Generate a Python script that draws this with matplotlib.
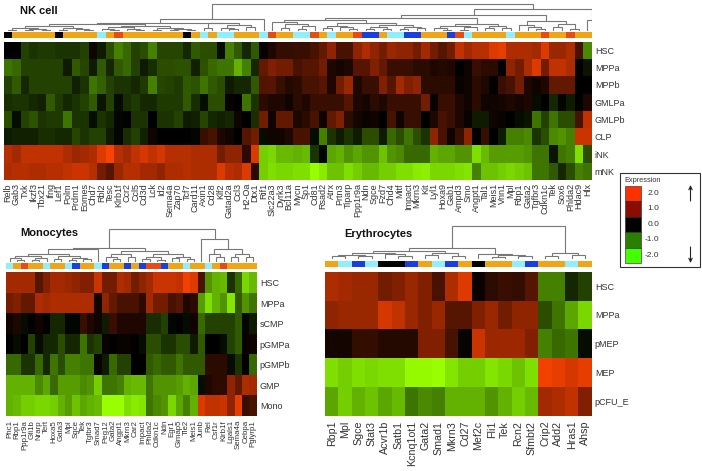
import numpy as np
import matplotlib
matplotlib.use("Agg")
import matplotlib.pyplot as plt
from matplotlib.colors import LinearSegmentedColormap, ListedColormap, Normalize
from matplotlib.patches import Rectangle

plt.rcParams['font.family'] = ['Liberation Sans', 'DejaVu Sans']
W, H = 702, 471
TXT = '#333333'

# ---------- NK cell ----------
nk_genes = ['Relb','Gab3','Txk','Ikzf3','Tbx21','Ifng','Lef1','Polm','Prdm1','Eomes','Chd7','Rbl2','Tesc','Klrb1f','Ccr2','Ccl5','Cd3d','Lck','Id2','Sema4a','Zap70','Tcf7','Card11','Axin1','Cd28','Klf2','Gatad2a','Ccl3','H2-Oa','Dtx1',
            'Rif1','Slc22a3','Dyrk3','Bcl11a','Mycn','Sp1','Cd81','Rsad2','Atrx','Prtn3','Tiparp','Ppp1r9a','Ndn','Sgce','Fzd7','Chd4','Mitf','Impact','Mkrn3','Kit','Lyl1','Hoxa9','Gab1','Ampd3','Smo','Angpt1','Tal1','Meis1','Vnn1','Mpl','Rbp1','Gata2','Tgfbr3','Cdkn1c','Tek','Sox6','Phlda2','Hdac9','Hlx']
nk_rows = ['HSC','MPPa','MPPb','GMLPa','GMLPb','CLP','iNK','mNK']
nk_hsc = [0,0,-.5,-.4,-.45,-.45,-.4,-.4,-.4,-.5,.1,-.2,-.6,-1,-.8,-.5,-.6,-1,-.55,-.55,-.55,-.3,-.7,-.6,-.6,-.1,-1,-.7,-.3,-.7,
          .05,.2,.35,.35,.4,.4,.5,.7,1,.5,.5,1,1.3,1,.8,1.1,1,1,.8,1.2,.8,.6,.8,1.5,1.2,1.4,1.4,1.8,1.9,1.3,1.3,1.3,1.2,1.8,1.1,1.1,1.3,.5,-1.1]
nk_mppa = [-.9,-.8,-.5,-.5,-.5,-.5,-.5,-.2,-.7,-.55,-.2,-.7,-.3,-.7,-.8,-.5,-.2,-.35,-.6,-.6,-.65,-.65,-.25,-.65,-.8,-.9,-.9,-1.5,-1,-.3,
           .7,.9,.8,.8,.5,.6,.6,.8,.2,.15,.2,.6,.6,.9,.7,.4,.4,.4,.3,.3,.2,.25,.2,0,.1,.4,.3,.3,0,1,.8,1.3,1.8,.8,1.5,1.5,1.3,0,-.15]
nk_mppb = [-.5,-.7,-.3,-.5,-.5,-.5,-.5,-.5,-.25,-.4,-.9,-.75,-.5,-.4,-.4,-.3,-.45,-1,-.55,-.5,-.45,-.7,-.65,-.9,-.7,-.6,-.2,-.3,-.3,-.7,
           .55,.6,.4,.25,.3,.5,.5,.6,.2,.8,1.1,.2,.4,.4,.9,.6,1.2,.9,1,.3,.3,.3,.3,.05,.1,.3,.2,0,.4,.5,.8,.2,.1,.2,.7,.7,.7,0,0]
nk_gmlpa = [-.35,-.4,-.4,-.3,-.25,-.7,-.45,-.3,-.4,-.5,-.7,-.15,-.5,-.1,-.35,-.45,-.3,-.3,-.45,-.45,-.45,-.7,-.35,-.1,-.6,-.6,.05,0,-.9,-.4,
            .3,.2,.2,.1,.3,.2,.4,.4,.4,.4,.6,.2,.15,.3,.2,.4,.4,.4,.4,.8,.05,.4,.4,.2,.1,.3,.1,.1,.15,.2,.15,.2,-.1,0,-.3,-.05,-.2,0,.2]
nk_gmlpb = [-.6,-.1,-.5,-.65,-.4,-.45,-.45,-.9,-.4,-.4,-.1,-.4,-.3,-.05,0,-.4,-.4,0,-.4,-.4,-.5,-.2,-.25,-.55,-.3,-.25,-.3,.1,0,-.35,
            .8,.1,.7,.7,.2,.3,.5,.1,.7,.9,.3,.15,.05,.1,0,.5,.1,.4,.4,0,.2,.5,.4,.2,.05,-.2,-.2,.1,.05,0,-.1,-.15,-.9,-.5,-.9,-.6,-.6,.5,1.5]
nk_clp = [-.2,-.25,-.25,-.25,-.35,-.35,-.3,-.3,-.55,-.4,-.5,-.5,-.2,-.05,-.35,-.5,-.25,.1,0,0,0,0,-.05,.4,.5,.2,.1,0,.6,.8,
          -.1,.1,.1,.2,.5,.5,-.1,-1,-.4,-.2,-.4,-.2,-.6,-.6,-.2,-.8,-.6,-.9,-.6,-.4,1,.5,.1,.4,1,0,.4,0,-.2,-1,-1,-1.1,-.4,-.6,-1.1,-1.2,-1,1.6,1.6]
nk_ink = [1.4,1.2,1.5,1.5,1.5,1.5,1.5,1.3,1.1,1.2,1.3,1.8,2.1,1.4,1.2,1.5,1.7,1.5,1.7,1.4,1.4,1.4,1.3,1.3,1.3,.8,1,1,.3,1.8,
          -1.8,-1.9,-1.6,-1.6,-1.5,-1.6,-.4,-.05,-1.4,-1.5,-1.2,-1.4,-1.2,-1.2,-1.7,-1.2,-1.1,-.8,-.8,-.8,-1.5,-1.4,-1.4,-1.2,-1.2,-2,-1.6,-1.3,-1.3,-1.3,-1.3,-1.2,-.9,-.9,-.15,-.9,-1,-2,-.6]
nk_mnk = [1.3,1.4,1.4,1.3,1.3,1.4,1.4,1.5,1.6,1.6,1.4,.8,.6,1.1,1.4,1.4,1.2,1.2,1,1.3,1.3,1.4,1.3,1.3,1.3,1.8,1.4,1.3,1.8,.3,
          -1.8,-2,-1.9,-1.9,-2,-2,-2.6,-2.2,-1.7,-1.7,-2,-1.8,-1.6,-1.6,-1.8,-1.8,-2,-2,-2.2,-2.3,-1.9,-1.9,-1.9,-2,-2.1,-1,-1.7,-1.7,-1.8,-1.9,-1.8,-1.7,-.9,-.9,-.7,-.3,-.6,-1,-.9]
# annotation codes: 0 orange, 1 cyan, 2 black, 3 red, 4 blue
nk_annot = [2,0,0,0,0,0,2,0,0,0,0,1,0,3,0,0,0,0,0,0,0,2,0,1,0,1,1,0,0,0,
            1,3,0,0,1,1,3,0,1,0,0,3,4,4,0,1,1,4,4,0,0,0,4,3,1,0,0,0,0,1,0,0,0,3,0,0,3,0,0]
# dendrograms: (merge height, left, right), 0 = leaf
nk_tree = (27,
    (12,
        (8.5,
            (7,(5,(3.5,(1.5,0,0),(2.5,(1.5,0,0),(1.5,0,0))),(3.5,(1.5,0,0),(2.5,0,(1.5,0,0)))),
               (5.5,(4,(2,0,(1,0,0)),(2.5,0,(1.5,0,0))),(3.5,(1.5,0,0),(2.5,(1,0,0),(1.5,0,0))))),
            (8,(3.5,0,0),(6,(3,0,(2,0,0)),(4,0,0)))),
        0),
    (22.3,
        (16,
            (13,
                (11,(9,0,(7,(3.5,0,0),(5,(2,0,0),0))),
                    (8.5,(5,(3,0,0),(4,0,(2.5,0,0))),(6,(4,(2,0,0),(2.5,0,0)),(4.5,(2.5,0,0),(3,0,0))))),
                (7.5,(5.5,(3,0,(1.5,0,0)),(4,(1.5,0,0),0)),(5,(3,0,0),(3.5,0,0)))),
            (10,(6.5,0,(4,0,(2,0,0))),(7,(4,0,0),(2.5,0,0)))),
        (11,0,0)))

# ---------- Monocytes ----------
mo_genes = ['Phc1','Rbp1','Ppp1r9a','Gfi1b','Nrarp','Tert','Hoxa5','Gata3','Mpl','Sgce','Tek','Tgfbr3','Smad7','Peg12','Gata2','Angpt1','Mkrn3','Car2','Impact','Phlda2','Cdkn1c','Ndn','Egr1','Gimap5','Tle2','Meis1','Junb','Rel','Csf1r','Klrb1f','Lgals1','Sema4a','Cebpa','Pglyrp1']
mo_rows = ['HSC','MPPa','sCMP','pGMPa','pGMPb','GMP','Mono']
mo_hsc = [1.2,1.2,1.2,1.2,.6,.9,1.2,1.2,1.1,1,.9,.9,1.6,.8,.8,1.3,1.2,.8,1,1.2,1.6,1.6,1.6,1.5,2,1.8,.5,-1.2,-1.5,-1.6,-.4,-.8,-1.9,-1.6]
mo_mppa = [.8,.9,.7,.7,1.3,1.2,1.3,1.3,1.3,1.3,1.3,1.3,.1,1,.7,.5,.5,.5,.3,1.2,.8,.8,.5,.6,.2,.3,-1.3,-2,-1.5,-1.2,-2.1,-.7,-1.2,-.9]
mo_scmp = [.1,.2,-.1,0,.1,0,-.3,-.3,-.05,-.05,.4,.2,.1,-.2,.4,.2,.2,.2,.2,-.35,-.35,-.5,-.05,0,-.1,.1,-.8,-.5,-.5,-.5,-.5,-.7,-.05,-.2]
mo_pgmpa = [0,-.1,0,-.5,-.1,-.3,-.3,-.6,-.3,-.3,-.9,-.4,-.5,.05,0,.05,.05,0,-.1,-.6,-.6,-.4,-.4,-.6,-.6,-.2,-.7,0,0,-.1,-.5,-.7,.05,.1]
mo_pgmpb = [-.8,-.8,-.4,-.4,-.8,-.3,-.9,-.6,-1,-1,-.9,-.9,.05,-.2,-.8,-.5,-.5,0,0,-.7,-.8,-.7,-.7,-.9,-.7,-.7,-.7,.3,.3,.3,-.1,-.4,0,-.8]
mo_gmp = [-1.5,-1.5,-1.5,-1.5,-1.1,-1.4,-.8,-1.3,-1.3,-1.3,-1.1,-1.2,-1.8,-.9,-.9,-1,-1.5,-1.6,-1.6,-.9,-1.2,-1.2,-1.2,-1.3,-1.5,-1.4,-.1,.2,.3,.3,1,.7,1.3,1.2]
mo_mono = [-1.5,-1.6,-1.8,-1.8,-1.9,-1.9,-1.8,-1.5,-1.3,-1.7,-1.4,-1.5,-1.6,-2.6,-2.6,-2.6,-2,-2.2,-2.1,-.9,-1.1,-1.2,-1.9,-1.4,-1,-1.5,1.8,1.5,1.5,1.6,1,1.9,.4,.5]
mo_annot = [1,0,3,0,0,1,0,0,1,4,0,0,1,4,0,0,4,0,4,3,3,4,0,0,1,0,0,1,0,3,0,0,0,0]
mo_tree = (32.7,
    (14.5,
        (13.5,
            (8,(6,(4,0,(2,0,0)),(4,(2.5,0,0),0)),(6,(3.5,0,0),(4.5,(2.5,0,0),(3,0,0)))),
            0),
        (11,(8.5,(5.5,0,(3,0,0)),(5,0,0)),
            (8.5,(5,(3,0,0),(2.5,0,0)),(5.5,(4,0,0),(3.5,0,0))))),
    (23,0,(12.7,(8,0,(5,0,0)),(8,(5,0,0),(5,0,0)))))

# ---------- Erythrocytes ----------
er_genes = ['Rbp1','Mpl','Sgce','Stat3','Acvr1b','Satb1','Kcnq1ot1','Gata2','Smad1','Mkrn3','Cd27','Mef2c','Fli1','Tek','Rcn2','Sfmbt2','Crip2','Add2','Hras1','Ahsp']
er_rows = ['HSC','MPPa','pMEP','MEP','pCFU_E']
er_hsc = [1.3,1.2,1.1,1.1,.8,.9,1.1,.9,.5,1.3,1.8,.05,.3,.4,.35,.6,-1,-1,-.3,-.5]
er_mppa = [1,1.1,1.1,1.1,1.7,1.5,1.1,.9,1.1,.6,.6,.9,1.1,.8,1,1,-.6,-.9,-1.4,-1.9]
er_pmep = [.15,.15,.35,.35,.25,.25,.25,.9,.9,.5,.05,1.6,1.1,1.15,1.15,.9,-1,-.8,-.9,-.1]
er_mep = [-2,-1.8,-2,-1.9,-2,-2,-2.5,-2.5,-2.6,-2.1,-1.8,-1.8,-2.1,-1.9,-1.7,-2,2,1.9,1.7,1.9]
er_pcfu = [-1.4,-1.8,-1.5,-1.7,-1.4,-1.6,-.9,-1.1,-1,-1.5,-1.5,-1.5,-1.2,-1.5,-1.8,-1.6,1.2,1.3,1.5,.9]
er_annot = [0,1,4,1,2,2,4,0,1,4,0,2,0,0,1,4,0,0,1,0]
er_tree = (33,
    (10.7,
        (8.5,(6.5,(4.5,(3,0,0),(3.5,0,0)),(5,0,(3,0,0))),(6.5,(4,0,0),(3.5,0,0))),
        (5.5,0,(4,(2.5,0,0),(3,0,0)))),
    (6,(3,0,0),(4,0,0)))

# ---------- Legend ----------
legend_values = [2.0, 1.0, 0.0, -1.0, -2.0]
legend_colors = ['#FF3000', '#8A0E00', '#000000', '#2B7F00', '#44FF00']

span = 4.8
heat_cmap = LinearSegmentedColormap.from_list('rg', [
    (0.0, (0.60, 1.00, 0.0)),
    (0.6/span, (0.50, 0.88, 0.0)),
    (1.6/span, (0.27, 0.50, 0.0)),
    (2.6/span, (0, 0, 0)),
    (3.6/span, (0.56, 0.14, 0.0)),
    (4.6/span, (0.94, 0.25, 0.0)),
    (1.0, (1.0, 0.28, 0.0))])
heat_norm = Normalize(-2.6, 2.2)
annot_cmap = ListedColormap(['#EFA514', '#8FEFFF', '#000000', '#E84A14', '#1A3FE0'])

fig = plt.figure(figsize=(W/100, H/100), dpi=100)

def px_axes(x0, y0, x1, y1):
    return fig.add_axes([x0/W, 1-y1/H, (x1-x0)/W, (y1-y0)/H])

def draw_tree(ax, node, next_leaf):
    if node == 0:
        x = next_leaf[0] + 0.5
        next_leaf[0] += 1
        return x, 0.0
    h, a, b = node
    xa, ha = draw_tree(ax, a, next_leaf)
    xb, hb = draw_tree(ax, b, next_leaf)
    ax.plot([xa, xa, xb, xb], [ha, h, h, hb], color='#777777', lw=0.8, solid_joinstyle='miter', solid_capstyle='butt')
    return (xa+xb)/2, h

def panel(title, tx, ty, genes, rows, values, annot, tree, hx0, hy0, hx1, hy1, ay0, ay1, dbase, gene_fs, gene_pad):
    n = len(genes)
    mat = np.array(values, dtype=float)
    ax = px_axes(hx0, hy0, hx1, hy1)
    ax.pcolormesh(np.arange(n+1), np.arange(len(rows)+1), mat, cmap=heat_cmap, norm=heat_norm)
    ax.set_xlim(0, n); ax.set_ylim(len(rows), 0)
    ax.set_xticks(np.arange(n)+.5, genes, rotation=90, fontsize=gene_fs, color=TXT)
    ax.set_yticks(np.arange(len(rows))+.5, rows, fontsize=6.5, color=TXT)
    ax.yaxis.tick_right()
    ax.tick_params(axis='y', length=0, pad=2.2)
    ax.tick_params(axis='x', length=0, pad=gene_pad)
    for s in ax.spines.values():
        s.set_visible(False)
    aa = px_axes(hx0, ay0, hx1, ay1)
    aa.pcolormesh(np.arange(n+1), [0, 1], np.array([annot]), cmap=annot_cmap, vmin=-.5, vmax=4.5)
    aa.axis('off')
    ad = px_axes(hx0, 0, hx1, dbase)
    ad.set_xlim(0, n); ad.set_ylim(0, dbase)
    draw_tree(ad, tree, [0])
    ad.axis('off')
    fig.text(tx/W, 1-ty/H, title, fontsize=8, fontweight='bold', color='#111111', va='center', ha='left')

panel('NK cell', 20, 10.5, nk_genes, nk_rows,
      [nk_hsc, nk_mppa, nk_mppb, nk_gmlpa, nk_gmlpb, nk_clp, nk_ink, nk_mnk],
      nk_annot, nk_tree, 3.5, 41.7, 591.7, 180, 32, 37.6, 31, 6.5, 2.2)
panel('Monocytes', 20, 233, mo_genes, mo_rows,
      [mo_hsc, mo_mppa, mo_scmp, mo_pgmpa, mo_pgmpb, mo_gmp, mo_mono],
      mo_annot, mo_tree, 6, 272.3, 256.7, 416, 262.7, 268.7, 262, 5.7, 2.8)
panel('Erythrocytes', 344.5, 234, er_genes, er_rows,
      [er_hsc, er_mppa, er_pmep, er_mep, er_pcfu],
      er_annot, er_tree, 325, 271.7, 591.7, 416, 261, 267.3, 259, 7.7, 3.5)

# legend, drawn in a full-figure pixel axes
lg = fig.add_axes([0, 0, 1, 1], facecolor='none')
lg.set_xlim(0, W); lg.set_ylim(H, 0); lg.axis('off')
lg.add_patch(Rectangle((620, 173.3), 80, 93.4, fc='white', ec='#333333', lw=0.8))
lg.text(624.5, 180, 'Expression', fontsize=5.3, color=TXT, va='center', ha='left')
sw_y0, sw_h = 185.7, 15.5
for i, (v, c) in enumerate(zip(legend_values, legend_colors)):
    lg.add_patch(Rectangle((624.5, sw_y0+i*sw_h), 16, sw_h, fc=c, ec='#222222', lw=0.4))
    lg.text(659, sw_y0+(i+.5)*sw_h, f'{v:.1f}', fontsize=6, color=TXT, va='center', ha='right')
arrow = dict(arrowstyle='->,head_width=0.12,head_length=0.25', lw=0.8, color='#222222', shrinkA=0, shrinkB=0)
lg.annotate('', xy=(690.5, 185), xytext=(690.5, 201), arrowprops=arrow)
lg.annotate('', xy=(690.5, 263), xytext=(690.5, 247), arrowprops=arrow)

fig.savefig('out.png', dpi=100)
